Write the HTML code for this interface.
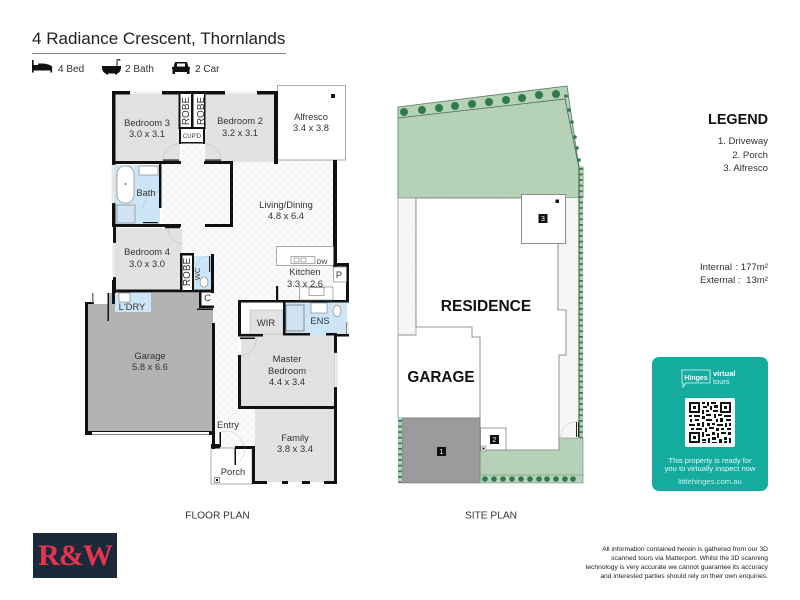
<!DOCTYPE html>
<html><head><meta charset="utf-8"><style>
html,body{margin:0;padding:0;background:#fff}
svg{display:block}
text{font-family:"Liberation Sans",sans-serif;fill:#333}
.l{font-size:9.4px;text-anchor:middle}
.r{font-size:10px;text-anchor:middle}
.w{fill:#111}
.g{fill:#fff;stroke:#888;stroke-width:.7}
.a{fill:none;stroke:#999;stroke-width:.5;stroke-dasharray:1.5 1}
</style></head><body>
<svg width="800" height="600" viewBox="0 0 800 600" xmlns="http://www.w3.org/2000/svg">
<defs>
<pattern id="h" width="8" height="8" patternUnits="userSpaceOnUse"><rect width="8" height="8" fill="#fbfbfb"/><path d="M0 0L8 8M8 0L0 8" stroke="#e6e6e6" stroke-width=".5"/></pattern>
<pattern id="b" width="12" height="12" patternUnits="userSpaceOnUse"><rect width="12" height="12" fill="#e2e2e2"/><path d="M0 4h5M7 10h4" stroke="#d6d6d6" stroke-width=".5"/></pattern>
<pattern id="gr" width="6" height="6" patternUnits="userSpaceOnUse"><rect width="6" height="6" fill="#b6d2b7"/><path d="M1 1h.6M4 3h.6M2 5h.5" stroke="#9fc0a3" stroke-width=".6"/></pattern>
<pattern id="s" width="5" height="5" patternUnits="userSpaceOnUse"><rect width="5" height="5" fill="#f7f7f7"/><path d="M1 1h.7M3.500 3h.7M2 4.200h.6" stroke="#dcdcdc" stroke-width=".7"/></pattern>
<pattern id="dr" width="4" height="4" patternUnits="userSpaceOnUse"><rect width="4" height="4" fill="#9b9b9b"/><path d="M1 1h.7M3 3h.7" stroke="#8c8c8c" stroke-width=".6"/></pattern>
<pattern id="hv" width="4" height="5.600" patternUnits="userSpaceOnUse"><rect width="4" height="5.600" fill="#b4d0b5"/><rect width="4" height="1.700" fill="#3a7a50"/></pattern>
</defs>

<!-- header -->
<text x="32" y="44" style="font-size:17.05px;fill:#222">4 Radiance Crescent, Thornlands</text>
<rect x="32" y="53" width="254" height="1" fill="#888"/>
<g fill="#111">
<path d="M32 60h1.600v5h4.500v-1.500h2c5 0 9 .5 12 3v6h-1.600v-2H33.600v2H32z"/>
<path d="M102 66h19v2c0 3-2 5-4 5.500v1h-2v-1h-7v1h-2v-1c-2-.5-4-2.500-4-5.500z"/>
<path d="M117 66v-5c0-2 3-2 3 0" fill="none" stroke="#111"/>
<path d="M175 62h12l1.500 5h1.500v2h-.5v5h-2.500v-2h-12v2H172.500v-5h-.5v-2h1.500z"/>
</g>
<rect x="177" y="63.500" width="8" height="3" fill="#fff"/>
<text x="58" y="72" style="font-size:10px">4 Bed</text>
<text x="125" y="72" style="font-size:10px">2 Bath</text>
<text x="195" y="72" style="font-size:10px">2 Car</text>

<!-- FLOOR PLAN fills -->
<path d="M162 162H181V143H204V162H276V160H335V264H333V300H238V409H255V448H214V290H181V227H162z" fill="url(#h)"/>
<rect x="115" y="94" width="65" height="68" fill="url(#b)"/>
<rect x="205" y="94" width="69" height="68" fill="url(#b)"/>
<rect x="116" y="228" width="66" height="62" fill="url(#b)"/>
<rect x="241" y="333" width="94" height="74" fill="url(#b)"/>
<rect x="255" y="408" width="79" height="74" fill="url(#b)"/>
<rect x="250" y="310" width="33" height="24" fill="#e2e2e2" stroke="#aaa" stroke-width=".5"/>
<path d="M88 304H108V293H199V308H213V432H88z" fill="#b3b3b3"/>
<rect x="115" y="165" width="45" height="59" fill="#cde6f7"/>
<rect x="115" y="293" width="36" height="19" fill="#cde6f7"/>
<rect x="193" y="256" width="19" height="33" fill="#cde6f7"/>
<rect x="284" y="302" width="63" height="33" fill="#cde6f7"/>

<!-- alfresco / porch -->
<rect x="277.500" y="85.500" width="68" height="74.500" class="g"/>
<rect x="331" y="94" width="4" height="4" class="w"/>
<rect x="211" y="448" width="41" height="36" class="g"/>
<rect x="214.500" y="477.500" width="5" height="5" fill="#fff" stroke="#555" stroke-width=".6"/><rect x="216" y="479" width="2" height="2" fill="#111"/>

<!-- walls -->
<g class="w">
<rect x="112" y="91" width="18" height="3.500"/><rect x="162" y="91" width="63" height="3.500"/><rect x="257" y="91" width="21" height="3.500"/>
<rect x="112" y="91" width="3.500" height="74"/>
<rect x="112" y="161" width="69" height="3"/><rect x="204" y="161" width="29" height="3"/><rect x="274" y="94" width="4" height="70"/>
<rect x="230" y="162" width="3" height="65"/><rect x="205" y="224" width="28" height="3"/>
<rect x="159" y="163" width="2.500" height="45"/>
<rect x="112" y="203" width="3.500" height="24"/>
<rect x="113" y="224" width="68" height="3"/>
<rect x="113" y="226" width="3" height="17"/><rect x="113" y="277" width="3" height="16"/>
<rect x="180" y="253" width="2.500" height="38"/><rect x="180" y="253" width="14" height="3"/>
<rect x="192" y="254" width="2" height="37"/>
<rect x="211" y="254" width="3" height="39"/>
<rect x="112" y="289.500" width="101" height="3"/>
<rect x="112" y="280" width="3" height="24"/>
<rect x="199" y="291" width="2.500" height="16"/>
<rect x="199" y="305.500" width="15" height="2.500"/><rect x="197" y="308.500" width="16" height="1.500"/>
<rect x="212" y="323" width="3" height="126"/>
<rect x="211" y="444" width="9" height="4.500"/><rect x="219.500" y="432" width="1.500" height="15"/>
<rect x="235" y="446" width="20" height="3"/><rect x="234.500" y="448" width="1.500" height="17"/>
<rect x="252" y="447" width="3" height="37"/>
<rect x="252" y="481" width="15" height="3"/><rect x="282" y="481" width="6" height="3"/><rect x="302" y="481" width="8" height="3"/><rect x="324" y="481" width="13" height="3"/>
<rect x="334" y="336" width="3" height="17"/><rect x="334" y="387" width="3" height="97"/>
<rect x="238" y="406" width="99" height="3"/>
<rect x="238" y="355" width="3" height="54"/>
<rect x="238" y="300" width="3" height="36"/>
<rect x="238" y="334" width="25" height="2.500"/><rect x="240" y="337.500" width="15" height="1.500"/>
<rect x="238" y="300" width="111" height="2.500"/>
<rect x="283" y="302" width="2.500" height="33"/><rect x="283" y="333" width="27" height="2.500"/>
<rect x="326" y="333" width="11" height="2.500"/>
<rect x="346" y="265" width="3" height="36"/><rect x="346" y="322" width="3" height="14"/><rect x="334" y="334" width="15" height="2.500"/>
<rect x="333" y="160" width="4" height="107"/><rect x="333" y="263" width="16" height="3.500"/>
<rect x="276" y="286" width="2.200" height="15"/>
<rect x="85" y="302" width="3" height="133"/><rect x="85" y="302" width="9" height="2"/>
<rect x="107.500" y="293" width="1.500" height="28"/><rect x="92" y="293" width="1.500" height="10" fill="#777"/>
<rect x="85" y="431" width="127" height="4"/>
</g>
<rect x="92" y="432" width="117" height="2.500" fill="#fff"/>
<rect x="130" y="91.500" width="32" height="2.500" fill="#eee"/><rect x="225" y="91.500" width="32" height="2.500" fill="#eee"/>
<rect x="112" y="165" width="3" height="38" fill="#eee" stroke="#bbb" stroke-width=".4"/>
<rect x="113" y="243" width="3" height="34" fill="#eee" stroke="#bbb" stroke-width=".4"/>
<rect x="334.500" y="353" width="2.500" height="34" fill="#eee" stroke="#bbb" stroke-width=".4"/>
<rect x="346.500" y="321" width="2.500" height="13" fill="#eee"/>

<!-- robes & cupboard -->
<rect x="179" y="94" width="26" height="34" fill="#fff"/>
<rect x="180" y="128" width="24" height="15" fill="#fff"/>
<rect x="181" y="254" width="12" height="36" fill="#fff"/>
<g class="w">
<rect x="178.500" y="94" width="2" height="34"/><rect x="191" y="94" width="2.500" height="34"/><rect x="204" y="94" width="1.500" height="34"/>
<rect x="178.500" y="127" width="27" height="2"/><rect x="179" y="128" width="2" height="16"/><rect x="203" y="128" width="2" height="16"/><rect x="179" y="142" width="26" height="1.500"/>
<rect x="180" y="253" width="2.500" height="38"/><rect x="192" y="254" width="2" height="37"/><rect x="180" y="253" width="14" height="2.500"/>
</g>
<rect x="163" y="159.500" width="16" height="1.200" fill="#111"/><rect x="205" y="159.500" width="16" height="1.200" fill="#111"/>
<path d="M163 160a16 16 0 0 1 16-16M221 160a16 16 0 0 0-16-16" class="a"/>
<path d="M143 208a16 16 0 0 1 16-16M168 228a16 16 0 0 0 16 16M209 256a15 15 0 0 0-14 16M93 304a15 15 0 0 0 15 16M197 310a15 15 0 0 0 15 13M241 355a15 15 0 0 0 15-17M221 432a18 18 0 0 1 14 33" class="a"/>
<rect x="143" y="222" width="15" height="1.200" fill="#111"/><rect x="165" y="227" width="15" height="1.200" fill="#111"/>
<rect x="209" y="256" width="1.200" height="16" fill="#333"/>

<!-- fixtures -->
<g fill="#fff" stroke="#777" stroke-width=".6">
<rect x="117" y="166" width="17" height="37" rx="8"/>
<rect x="117" y="205" width="18" height="18" fill="#cfe3f2"/>
<rect x="139" y="166" width="19" height="9"/>
<rect x="119" y="293" width="11" height="9"/>
<rect x="276.500" y="246.500" width="57" height="19"/>
<rect x="291" y="256.500" width="24" height="7"/>
<rect x="333.500" y="267" width="13" height="15"/>
<rect x="299.500" y="287" width="33.500" height="13"/>
<rect x="309" y="287.500" width="15" height="8"/>
<rect x="286" y="305" width="18" height="26" fill="#cfe3f2" stroke="#555"/>
<rect x="311" y="303" width="16" height="10"/>
<ellipse cx="337" cy="311" rx="4" ry="5.500"/>
<ellipse cx="204" cy="282" rx="4" ry="5"/>
</g>
<rect x="294" y="258" width="5" height="4" fill="none" stroke="#666" stroke-width=".5"/><rect x="301" y="258" width="5" height="4" fill="none" stroke="#666" stroke-width=".5"/>
<circle cx="125.500" cy="184" r="1" fill="#777"/>

<!-- floor plan labels -->
<text class="l" x="147" y="126">Bedroom 3</text><text class="l" x="147" y="137">3.0 x 3.1</text>
<text class="l" x="240" y="124">Bedroom 2</text><text class="l" x="240" y="136">3.2 x 3.1</text>
<text class="l" x="311" y="120">Alfresco</text><text class="l" x="311" y="131">3.4 x 3.8</text>
<text class="l" x="286" y="208">Living/Dining</text><text class="l" x="286" y="219">4.8 x 6.4</text>
<text class="l" x="147" y="255">Bedroom 4</text><text class="l" x="147" y="267">3.0 x 3.0</text>
<text class="l" x="305" y="275">Kitchen</text><text class="l" x="305" y="287">3.3 x 2.6</text>
<text class="l" x="150" y="359">Garage</text><text class="l" x="150" y="370">5.8 x 6.6</text>
<text class="l" x="287" y="362">Master</text><text class="l" x="287" y="374">Bedroom</text><text class="l" x="287" y="385">4.4 x 3.4</text>
<text class="l" x="295" y="441">Family</text><text class="l" x="295" y="452">3.8 x 3.4</text>
<text class="l" x="228" y="428">Entry</text><text class="l" x="233" y="475">Porch</text>
<text class="l" x="132" y="310">L'DRY</text><text class="l" x="266" y="326">WIR</text><text class="l" x="320" y="324">ENS</text>
<text class="l" x="146" y="196">Bath</text><text class="l" x="339" y="278">P</text><text class="l" x="207.500" y="301">C</text>
<text class="l" x="322" y="264" style="font-size:6.500px">DW</text>
<text class="l" x="192" y="138" style="font-size:6px">CUP'D</text>
<text class="r" transform="translate(189,111) rotate(-90)">ROBE</text>
<text class="r" transform="translate(204,111) rotate(-90)">ROBE</text>
<text class="r" transform="translate(190,272) rotate(-90)">ROBE</text>
<text class="l" transform="translate(200,274) rotate(-90)" style="font-size:7.500px">WC</text>
<text class="l" x="217.500" y="518.500" style="font-size:10.200px">FLOOR PLAN</text>
<text class="l" x="491" y="518.500" style="font-size:10.200px">SITE PLAN</text>

<!-- SITE PLAN -->
<path d="M398 107L567 86L579 167H583V198H398z" fill="url(#gr)" stroke="#5d7a62" stroke-width=".8"/>
<path d="M398 118L565 99L579 168" fill="none" stroke="#4d6a52" stroke-width=".8"/>
<g fill="#2f7a4c">
<circle cx="404" cy="112" r="4"/><circle cx="422" cy="110" r="4"/><circle cx="439" cy="108" r="4"/><circle cx="455" cy="106" r="4"/><circle cx="472" cy="104" r="4"/><circle cx="489" cy="102" r="4"/><circle cx="506" cy="100" r="4"/><circle cx="522" cy="98" r="4"/><circle cx="539" cy="95" r="4"/><circle cx="556" cy="94" r="4"/>
<circle cx="566" cy="96" r="1.800"/><circle cx="569" cy="110" r="1.800"/><circle cx="572" cy="122" r="1.800"/><circle cx="575" cy="137" r="1.800"/><circle cx="577" cy="148" r="1.800"/><circle cx="579" cy="160" r="1.800"/>
</g>
<rect x="398" y="198" width="18" height="137" fill="url(#s)" stroke="#999" stroke-width=".8"/>
<rect x="558" y="198" width="21" height="240" fill="url(#s)"/>
<path d="M558 198V310H566V355H559V450H480V337H472V327H416V198z" fill="#fff" stroke="#777" stroke-width=".8"/>
<path d="M398 335H416M398 335V418H480" fill="none" stroke="#888" stroke-width=".8"/>
<rect x="579" y="167" width="4" height="271" fill="url(#hv)"/>
<rect x="578.500" y="167" width="1" height="271" fill="#2f5a3e"/>
<rect x="521.500" y="194.500" width="44" height="49" fill="#fff" stroke="#777" stroke-width=".8"/>
<rect x="555.500" y="199.500" width="3.500" height="3.500" fill="#111"/>
<path d="M480 450H559V438H583V483H480z" fill="url(#gr)" stroke="#777" stroke-width=".6"/>
<path d="M480 475H583" stroke="#6b8a70" stroke-width=".6"/>
<rect x="402" y="418" width="78" height="65" fill="url(#dr)" stroke="#777" stroke-width=".6"/>
<rect x="398" y="418" width="4" height="65" fill="url(#hv)"/>
<g fill="#2f7a4c"><circle cx="485" cy="479" r="2.800"/><circle cx="494" cy="479" r="2.800"/><circle cx="503" cy="479" r="2.800"/><circle cx="512" cy="479" r="2.800"/><circle cx="521" cy="479" r="2.800"/><circle cx="530" cy="479" r="2.800"/><circle cx="539" cy="479" r="2.800"/><circle cx="547" cy="479" r="2.800"/><circle cx="556" cy="479" r="2.800"/><circle cx="565" cy="479" r="2.800"/><circle cx="573" cy="479" r="2.800"/></g>
<rect x="480.500" y="428" width="25.500" height="22" fill="#fff" stroke="#777" stroke-width=".7"/>
<rect x="481" y="446" width="5" height="5" fill="#fff" stroke="#666" stroke-width=".5"/><rect x="482.500" y="447.500" width="2" height="2" fill="#111"/>
<rect x="576" y="422" width="1" height="15" fill="#222"/><rect x="578" y="422" width="1" height="15" fill="#222"/>
<path d="M561 437a15 15 0 0 1 15-15" class="a"/>
<rect x="437" y="447" width="9" height="9" fill="#111"/><text x="441.500" y="454" text-anchor="middle" style="fill:#fff;font-size:7px">1</text>
<rect x="490" y="435" width="9" height="9" fill="#111"/><text x="494.500" y="442" text-anchor="middle" style="fill:#fff;font-size:7px">2</text>
<rect x="538.500" y="214" width="9" height="9" fill="#111"/><text x="543" y="221" text-anchor="middle" style="fill:#fff;font-size:7px">3</text>
<text x="486" y="311" text-anchor="middle" style="font-size:15.500px;font-weight:bold;fill:#111">RESIDENCE</text>
<text x="441" y="382" text-anchor="middle" style="font-size:15.300px;font-weight:bold;fill:#111">GARAGE</text>

<!-- legend -->
<text x="768" y="124" text-anchor="end" style="font-size:14.400px;font-weight:bold;fill:#111">LEGEND</text>
<text x="768" y="144" text-anchor="end" style="font-size:9.600px">1. Driveway</text>
<text x="768" y="158" text-anchor="end" style="font-size:9.600px">2. Porch</text>
<text x="768" y="171" text-anchor="end" style="font-size:9.600px">3. Alfresco</text>
<text x="700" y="270" style="font-size:9.600px">Internal</text><text x="768" y="270" text-anchor="end" style="font-size:9.600px">: 177m²</text>
<text x="700" y="283" style="font-size:9.600px">External :</text><text x="768" y="283" text-anchor="end" style="font-size:9.600px">13m²</text>

<!-- QR card -->
<rect x="652" y="357" width="116" height="134" rx="7" fill="#15aca0"/>
<path d="M682 370h28v13h-24l-3 4v-4h-1z" fill="none" stroke="#e8f7f5" stroke-width=".8"/>
<text x="696" y="380" text-anchor="middle" style="font-size:7px;font-weight:bold;fill:#fff">Hinges</text>
<text x="713" y="376" style="font-size:7.500px;font-weight:bold;fill:#fff">virtual</text>
<text x="713" y="384" style="font-size:7.500px;fill:#e8f7f5">tours</text>
<rect x="685" y="398" width="50" height="49" rx="2" fill="#fff"/>
<g fill="#111">
<path fill-rule="evenodd" d="M689 402h11v11h-11zM691 404v7h7v-7zM720 402h11v11h-11zM722 404v7h7v-7zM689 432h11v11h-11zM691 434v7h7v-7z"/>
<rect x="693" y="406" width="3" height="3"/><rect x="724" y="406" width="3" height="3"/><rect x="693" y="436" width="3" height="3"/>
<path d="M702 402h3v2h-3zM707 402h2v4h-2zM711 402h5v2h-5zM703 406h4v2h-4zM710 406h2v4h-2zM714 405h4v3h-4zM702 410h2v4h-2zM706 410h3v2h-3zM713 410h5v2h-5zM706 414h5v2h-5zM714 414h2v4h-2zM689 415h3v2h-3zM694 415h6v2h-6zM702 416h3v3h-3zM718 414h4v2h-4zM724 415h7v2h-7zM690 419h2v3h-2zM695 419h4v2h-4zM706 419h6v2h-6zM716 419h2v3h-2zM720 418h3v4h-3zM726 419h5v2h-5zM689 424h6v2h-6zM697 423h3v3h-3zM702 422h2v5h-2zM707 423h3v3h-3zM712 423h3v2h-3zM717 424h6v2h-6zM725 423h2v4h-2zM729 423h2v3h-2zM691 428h3v2h-3zM696 428h6v2h-6zM705 428h2v4h-2zM709 427h5v2h-5zM716 428h3v3h-3zM721 428h3v2h-3zM727 428h4v2h-4zM702 432h2v5h-2zM706 434h4v2h-4zM712 432h3v3h-3zM717 433h2v5h-2zM721 432h5v2h-5zM728 432h3v3h-3zM702 439h4v2h-4zM708 438h2v5h-2zM712 437h4v3h-4zM719 439h3v4h-3zM724 437h3v3h-3zM729 438h2v5h-2zM702 442h4v1h-4zM712 442h5v1h-5zM724 441h3v2h-3z"/>
</g>
<text x="710" y="463" text-anchor="middle" style="font-size:7.500px;fill:#e8f7f5">This property is ready for</text>
<text x="710" y="471" text-anchor="middle" style="font-size:7.600px;fill:#e8f7f5">you to virtually inspect now</text>
<text x="710" y="484" text-anchor="middle" style="font-size:7.700px;fill:#cdeeea">littlehinges.com.au</text>

<!-- logo -->
<rect x="33" y="533" width="84" height="45" fill="#1b2a3a"/>
<text x="75" y="565" text-anchor="middle" style="font-family:'Liberation Serif',serif;font-size:30px;font-weight:bold;fill:#e6344d;letter-spacing:-1px">R&amp;W</text>

<!-- disclaimer -->
<g style="font-size:6.700px" text-anchor="end">
<text x="768" y="551" style="fill:#222">All information contained herein is gathered from our 3D</text>
<text x="768" y="560" style="fill:#222">scanned tours via Matterport. Whilst the 3D scanning</text>
<text x="768" y="569" style="fill:#222">technology is very accurate we cannot guarantee its accuracy</text>
<text x="768" y="578" style="fill:#222">and interested parties should rely on their own enquiries.</text>
</g>
</svg>
</body></html>
